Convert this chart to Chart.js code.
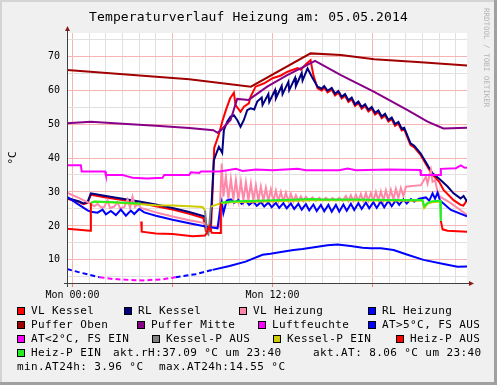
<!DOCTYPE html>
<html>
<head>
<meta charset="utf-8">
<title>Temperaturverlauf Heizung</title>
<script src="https://cdn.jsdelivr.net/npm/chart.js@4.4.1/dist/chart.umd.min.js"></script>
<style>
  html, body { margin: 0; padding: 0; background: #f0f0f0; }
  #wrap { position: relative; width: 497px; height: 385px; overflow: hidden;
          font-family: 'DejaVu Sans Mono', monospace; color: #000; }
  #wrap canvas { position: absolute; left: 0; top: 0; }
  #titel { position: absolute; left: 0; top: 9px; width: 497px; text-align: center;
           font-size: 13px; line-height: 15px; letter-spacing: 0.15px; white-space: pre; }
  #wasserzeichen { position: absolute; left: 482px; top: 8px; writing-mode: vertical-rl;
                   font-size: 7.5px; line-height: 9px; color: #b4b4b4; white-space: pre; }
  .txt { position: absolute; font-size: 11px; line-height: 12px; letter-spacing: 0.4px; white-space: pre; }
  .box { position: absolute; width: 6px; height: 6px; border: 1px solid #000; }
</style>
</head>
<body>
<div id="wrap">
  <canvas id="grafik" width="497" height="385"></canvas>
  <div id="titel">Temperaturverlauf Heizung am: 05.05.2014</div>
  <div id="wasserzeichen">RRDTOOL / TOBI OETIKER</div>
</div>
<script>
// ════════════════════════════════════════
//  Messwerte (Stunde, °C) - abgelesen
// ════════════════════════════════════════

const vlKessel = [
  [-0.33,28.0],[0.4,27.0],[0.65,26.4],[0.9,26.8],[1.1,29.2],[2,28.4],[3,27.6],[4,26.8],[5,25.8],
  [6,24.8],[7,23.6],[7.85,22.3],[8.0,18.5],[8.3,18.5],[8.4,30.0],[8.5,43.0],[8.75,46.5],[9.0,51.0],
  [9.2,54.1],[9.45,57.5],[9.68,59.2],[9.78,55.6],[10.08,53.6],[10.28,55.1],[10.58,56.1],[10.68,58.0],
  [10.98,61.0],[11.5,62.0],[12.0,63.5],[12.5,64.3],[12.9,65.4],[13.5,66.5],[13.7,66.0],[14.0,67.6],
  [14.28,68.8],[14.45,64.4],[14.7,60.5],[14.95,59.9],[15.1,60.7],[15.3,59.3],[15.55,60.1],[15.75,58.4],
  [15.95,59.2],[16.15,57.5],[16.35,58.3],[16.55,56.5],[16.75,57.3],[16.95,55.3],[17.15,56.1],[17.35,54.5],
  [17.55,55.3],[17.75,53.7],[17.95,54.5],[18.15,52.8],[18.35,53.5],[18.55,51.7],[18.75,52.5],[18.95,50.7],
  [19.15,51.4],[19.35,49.5],[19.55,50.1],[19.75,48.1],[19.9,48.4],[20.28,43.8],[20.5,43.1],[20.88,40.9],
  [21.36,36.9],[21.6,35.0],[22.0,33.0],[22.26,30.6],[22.86,27.6],[23.28,26.2],[23.45,26.0],[23.67,27.6]
];

const rlKessel = [
  [-0.33,28.2],[0.4,27.2],[0.65,26.6],[0.9,27.0],[1.1,29.6],[2,28.8],[3,28.0],[4,27.2],[5,26.3],
  [6,25.3],[7,24.1],[7.95,22.8],[8.05,19.5],[8.2,19.2],[8.28,20.9],[8.48,39.4],[8.6,41.0],[8.78,43.3],
  [8.98,41.5],[9.08,48.2],[9.28,50.7],[9.48,52.2],[9.68,52.6],[9.88,51.2],[10.08,49.2],[10.28,51.2],
  [10.48,54.1],[10.68,54.6],[10.9,54.3],[11.08,56.6],[11.35,57.8],[11.4,55.6],[11.75,58.8],[11.8,56.5],
  [12.15,60.0],[12.2,57.6],[12.55,61.2],[12.6,58.8],[12.95,62.4],[13.0,60.0],[13.35,63.6],[13.4,61.2],
  [13.75,65.0],[13.8,62.8],[14.1,66.4],[14.35,64.0],[14.7,61.0],[14.95,60.4],[15.1,61.2],[15.3,59.8],
  [15.55,60.6],[15.75,58.9],[15.95,59.7],[16.15,58.0],[16.35,58.8],[16.55,57.0],[16.75,57.8],[16.95,55.8],
  [17.15,56.6],[17.35,55.0],[17.55,55.8],[17.75,54.2],[17.95,55.0],[18.15,53.3],[18.35,54.0],[18.55,52.2],
  [18.75,53.0],[18.95,51.2],[19.15,51.9],[19.35,50.0],[19.55,50.6],[19.75,48.6],[19.9,48.9],[20.28,44.3],
  [20.5,43.6],[20.88,41.4],[21.36,37.4],[21.6,35.5],[22.08,33.5],[22.5,31.6],[22.86,29.6],[23.28,28.1],
  [23.46,28.8],[23.67,27.2]
];

const vlHeizung = [
  [-0.33,29.8],[0.3,28.4],[0.9,27.0],[1.1,26.5],[1.3,25.8],[1.5,26.5],[1.7,25.5],[1.9,25.6],[2.1,27.6],
  [2.25,25.3],[2.5,25.7],[2.7,27.0],[2.85,25.2],[3.1,25.5],[3.3,27.8],[3.45,25.4],[3.6,28.6],[3.75,25.6],
  [3.95,26.5],[4.1,25.3],[5,24.0],[6,22.8],[7,21.7],[7.85,20.9],[8.3,19.5],[8.8,19.8],
  [8.85,26.8],[8.95,38.4],[9.05,28.6],[9.2,34.5],[9.35,28.0],[9.5,33.8],[9.65,27.8],[9.8,33.5],[9.95,27.6],
  [10.1,33.0],[10.25,27.6],[10.4,32.8],[10.55,27.5],[10.7,32.5],[10.85,27.5],[11.0,32.0],[11.15,27.4],
  [11.3,31.6],[11.45,27.4],[11.6,31.2],[11.75,27.3],[11.9,30.8],[12.05,27.3],[12.2,30.4],[12.35,27.3],
  [12.5,30.0],[12.65,27.2],[12.8,29.8],[12.95,27.2],[13.1,29.4],[13.25,27.2],[13.4,29.0],[13.55,27.2],
  [13.7,28.7],[13.85,27.3],[14.0,28.6],[14.2,27.4],[14.4,28.4],[14.6,27.4],[14.8,28.3],[15.0,27.5],
  [15.2,28.3],[15.4,27.5],[15.6,28.2],[15.8,27.5],[16.0,28.3],[16.2,27.4],[16.4,28.8],[16.55,27.3],
  [16.7,29.0],[16.85,27.3],[17.0,29.2],[17.15,27.3],[17.3,29.4],[17.45,27.3],[17.6,29.6],[17.75,27.4],
  [17.9,29.7],[18.05,27.4],[18.2,30.0],[18.35,27.5],[18.5,30.2],[18.65,27.5],[18.8,30.5],[18.95,27.6],
  [19.1,30.6],[19.25,27.8],[19.4,30.9],[19.55,28.2],[19.7,31.2],[19.85,28.8],[20.0,31.5],[20.1,31.6],
  [20.9,32.0],[21.2,34.5],[21.3,32.5],[21.5,36.5],[21.6,33.0],[21.75,33.5],[21.9,30.1],[22.05,28.6],
  [22.7,26.7],[23.67,23.2]
];

const rlHeizung = [
  [-0.33,28.6],[0.3,26.5],[0.9,24.6],[1.1,24.2],[1.5,23.9],[1.8,24.8],[2.0,23.4],[2.3,24.4],[2.6,23.2],
  [2.9,24.8],[3.2,23.0],[3.5,24.5],[3.7,23.5],[4.0,25.0],[4.3,24.0],[5,23.0],[6,21.8],[7,20.8],[7.9,19.9],
  [8.7,19.3],[8.85,24.7],[8.95,27.0],[9.05,23.8],[9.25,27.5],[9.5,27.8],[9.7,26.8],[9.95,27.6],[10.15,26.5],
  [10.4,27.4],[10.6,26.2],[10.85,27.2],[11.05,25.9],[11.3,27.0],[11.5,25.7],[11.75,26.9],[11.95,25.5],
  [12.2,26.8],[12.4,25.3],[12.65,26.7],[12.85,25.2],[13.1,26.6],[13.3,25.0],[13.55,26.5],[13.75,24.8],
  [14.0,26.4],[14.2,24.6],[14.45,26.3],[14.65,24.4],[14.9,26.2],[15.1,24.3],[15.35,26.2],[15.55,24.2],
  [15.8,26.2],[16.0,24.2],[16.25,26.3],[16.45,24.5],[16.7,26.5],[16.9,24.7],[17.15,26.7],[17.35,25.0],
  [17.6,26.9],[17.8,25.2],[18.05,27.0],[18.25,25.3],[18.5,27.2],[18.7,25.5],[18.95,27.4],[19.15,25.8],
  [19.4,27.6],[19.6,26.2],[19.85,27.8],[20.05,26.6],[20.3,27.9],[20.5,27.2],[20.8,28.0],[21.2,28.4],
  [21.4,27.4],[21.6,29.6],[21.75,28.0],[21.9,29.8],[22.05,27.5],[22.7,24.7],[23.67,22.8]
];

const pufferOben = [
  [-0.33,65.9],[7,63.2],[10.7,61.0],[14.28,70.8],[16.1,70.3],[18.1,69.1],[20.9,68.2],[23.67,67.2]
];

const pufferMitte = [
  [-0.33,50.2],[1.1,50.7],[3,50.1],[5,49.5],[7,48.8],[8.45,48.2],[8.7,47.4],[8.9,48.2],[9.48,51.2],
  [9.88,57.4],[10.56,57.1],[11.68,61.0],[12.88,64.4],[13.68,66.4],[14.55,68.6],[16.1,64.4],[18.1,59.5],
  [20.1,54.1],[21.3,50.7],[22.25,48.7],[23.67,48.9]
];

const luftfeuchte = [
  [-0.33,37.9],[0.5,37.9],[0.55,36.0],[1.95,36.0],[2.0,35.0],[3.0,35.0],[3.3,34.6],[3.6,34.2],[4.5,34.0],
  [5.4,34.2],[5.5,35.0],[7.0,35.0],[7.1,35.8],[7.6,35.6],[7.7,36.0],[8.8,36.0],[9.2,36.3],[9.8,36.8],
  [10.2,36.2],[11.0,36.6],[12.0,36.4],[13.5,36.8],[14.0,36.4],[16.0,36.4],[16.5,36.9],[17.0,36.4],
  [19.0,36.6],[20.85,36.5],[20.9,35.0],[22.05,35.0],[22.1,36.8],[23.0,37.0],[23.3,37.8],[23.5,37.2],
  [23.67,37.1]
];

// Aussentemperatur, je nach Bereich in zwei Farben
const atWarm = [
  [-0.33,7.3],[0.6,6.1],[1.62,4.9],[1.63,null],[6.18,4.9],[7.38,5.8],[8.4,7.06],[9.42,8.2],[10.38,9.5],
  [11.4,11.5],[11.88,11.8],[12.5,12.3],[13.26,12.9],[13.8,13.2],[14.7,13.9],[15.3,14.3],[15.9,14.55],
  [16.68,14.1],[17.4,13.6],[17.88,13.4],[18.5,13.4],[19.26,12.9],[20.1,11.5],[21.06,10.0],[22.26,8.8],
  [23.1,8.0],[23.67,8.06]
];

const atKalt = [
  [1.62,4.9],[2.4,4.4],[3.42,4.1],[4.2,3.96],[5.4,4.3],[6.18,4.9]
];

const kesselPAus = [
  [7.95,24.6],[8.05,18.0],[8.15,17.5],[8.2,20.0],[8.3,25.7]
];

const kesselPEin = [
  [1.1,26.8],[1.3,27.1],[2.5,26.9],[4.1,26.4],[5,26.1],[6,26.0],[7,25.8],[7.8,25.6],[7.95,24.6],
  [7.96,null],[8.3,25.7],[8.6,26.2],[8.9,26.7],[9.5,27.0],[12,27.3],[15,27.6],[18,27.5],[21.0,27.4],
  [21.1,25.3],[21.3,26.5],[21.6,27.0],[22.05,27.2]
];

const heizPAus = [
  [-0.33,19.2],[1.05,18.6],[1.1,26.8],[1.11,null],[4.12,21.3],[4.15,18.3],[5,17.8],[6,17.6],[7.2,17.0],
  [7.95,17.2],[8.05,18.0],[8.2,19.8],[8.35,18.0],[8.85,17.9],[8.9,26.8],[8.91,null],[22.1,21.5],
  [22.2,19.0],[22.5,18.6],[23.67,18.3]
];

const heizPEin = [
  [1.1,26.8],[1.3,27.2],[2.5,27.0],[4.1,26.6],[4.11,null],[8.9,26.8],[9.5,27.2],[11,27.4],[13,27.7],
  [14.4,27.9],[15,27.8],[17,27.8],[19,27.6],[21.0,27.6],[21.1,25.8],[21.3,26.8],[21.6,27.3],[22.05,27.4],
  [22.1,21.5]
];

// Reihenfolge wie in der Legende
const reihenNamen = ["VL Kessel", "RL Kessel", "VL Heizung", "RL Heizung", "Puffer Oben", "Puffer Mitte",
  "Luftfeuchte", "AT>5°C, FS AUS", "AT<2°C, FS EIN", "Kessel-P AUS", "Kessel-P EIN", "Heiz-P AUS", "Heiz-P EIN"];
const reihenDaten = [vlKessel, rlKessel, vlHeizung, rlHeizung, pufferOben, pufferMitte, luftfeuchte,
  atWarm, atKalt, kesselPAus, kesselPEin, heizPAus, heizPEin];
const reihenFarben = ["#ff0000", "#000080", "#ff88a8", "#0000ff", "#a00000", "#880088", "#ff00ff",
  "#0000ff", "#ff00ff", "#808080", "#cccc00", "#ff0000", "#22ee22"];

// Achsenbeschriftung
const xLabelStunden = [0, 12];
const xLabelTexte = ["Mon 00:00", "Mon 12:00"];
const yLabelWerte = [10, 20, 30, 40, 50, 60, 70];

// Zusatztexte unter der Legende
const statTexte = ["akt.rH:37.09 °C um 23:40", "akt.AT: 8.06 °C um 23:40",
  "min.AT24h: 3.96 °C", "max.AT24h:14.55 °C"];


// ════════════════════════════════════════
//  Layout der Legende (Pixel)
// ════════════════════════════════════════
const legZeileY = [311, 325, 339, 353, 367];
const legPos = [[0,17],[0,124],[0,239],[0,368],[1,17],[1,137],[1,258],[1,368],
  [2,17],[2,152],[2,273],[2,396],[3,17]];
const statPos = [[3,113],[3,313],[4,17],[4,159]];

function baueLegende() {
  const wrap = document.getElementById("wrap");
  reihenNamen.forEach((name, i) => {
    const [zeile, x] = legPos[i];
    const mitte = legZeileY[zeile];
    const box = document.createElement("div");
    box.className = "box";
    box.style.left = x + "px";
    box.style.top = (mitte - 4) + "px";
    box.style.background = reihenFarben[i];
    wrap.appendChild(box);
    const t = document.createElement("div");
    t.className = "txt";
    t.style.left = (x + 14) + "px";
    t.style.top = (mitte - 6) + "px";
    t.textContent = name;
    wrap.appendChild(t);
  });
  statTexte.forEach((txt, i) => {
    const [zeile, x] = statPos[i];
    const t = document.createElement("div");
    t.className = "txt";
    t.style.left = x + "px";
    t.style.top = (legZeileY[zeile] - 6) + "px";
    t.textContent = txt;
    wrap.appendChild(t);
  });
}


// ════════════════════════════════════════
//  Hintergrund, Rahmen, Achsen mit Pfeil
// ════════════════════════════════════════
const rahmenPlugin = {
  id: "rahmen",
  beforeDraw(chart) {
    const { ctx, chartArea: a, width, height } = chart;
    ctx.save();
    ctx.fillStyle = "#f0f0f0";
    ctx.fillRect(0, 0, width, height);
    ctx.fillStyle = "#ffffff";
    ctx.fillRect(a.left, a.top, a.right - a.left, a.bottom - a.top);
    ctx.fillStyle = "#d4d4d4";
    ctx.fillRect(0, 0, width, 2);
    ctx.fillRect(0, 0, 2, height);
    ctx.fillStyle = "#a0a0a0";
    ctx.fillRect(0, height - 3, width, 3);
    ctx.fillRect(width - 3, 0, 3, height);
    ctx.restore();
  },
  afterDatasetsDraw(chart) {
    const { ctx, chartArea: a } = chart;
    ctx.save();
    ctx.strokeStyle = "#404040";
    ctx.lineWidth = 1;
    ctx.beginPath();
    ctx.moveTo(a.left + 0.5, a.bottom + 4);
    ctx.lineTo(a.left + 0.5, a.top - 3);
    ctx.moveTo(a.left - 3, a.bottom + 0.5);
    ctx.lineTo(a.right + 2, a.bottom + 0.5);
    ctx.stroke();
    ctx.fillStyle = "#8b1a1a";
    ctx.beginPath();
    ctx.moveTo(a.left + 0.5, a.top - 7);
    ctx.lineTo(a.left - 2, a.top - 2);
    ctx.lineTo(a.left + 3, a.top - 2);
    ctx.closePath();
    ctx.fill();
    ctx.beginPath();
    ctx.moveTo(a.right + 7, a.bottom + 0.5);
    ctx.lineTo(a.right + 2, a.bottom - 2);
    ctx.lineTo(a.right + 2, a.bottom + 3);
    ctx.closePath();
    ctx.fill();
    ctx.restore();
  }
};


// ════════════════════════════════════════
//  Grafik
// ════════════════════════════════════════
function inicializar() {
  if (typeof Chart === "undefined") {
    setTimeout(inicializar, 100);
    return;
  }
  Chart.defaults.font.family = "'DejaVu Sans Mono', monospace";
  Chart.defaults.color = "#000";

  const rosa = "#f6b4b4";
  const grau = "#e0e0e0";
  const gestrichelt = ctx => ctx.p0.parsed.x < 8.2 ? [5, 3] : undefined;

  const datasets = reihenDaten.map((reihe, i) => {
    const ds = {
      label: reihenNamen[i],
      data: reihe.map(([x, y]) => ({ x: x, y: y })),
      borderColor: reihenFarben[i],
      backgroundColor: reihenFarben[i],
      borderWidth: 2,
      pointRadius: 0,
      tension: 0,
      spanGaps: false,
      order: reihenNamen.length - i
    };
    if (i === 7 || i === 8) {
      ds.segment = { borderDash: gestrichelt };
    }
    return ds;
  });

  new Chart(document.getElementById("grafik"), {
    type: "line",
    data: { datasets: datasets },
    options: {
      responsive: false,
      animation: false,
      events: [],
      layout: { padding: { top: 33, right: 30, bottom: 82, left: 0 } },
      plugins: {
        legend: { display: false },
        tooltip: { enabled: false },
        title: { display: false }
      },
      scales: {
        x: {
          type: "linear",
          min: -0.333,
          max: 23.667,
          afterFit: s => { s.height = 20; },
          afterBuildTicks: s => {
            const t = [];
            for (let h = 0; h <= 23; h++) t.push({ value: h });
            s.ticks = t;
          },
          ticks: {
            autoSkip: false,
            maxRotation: 0,
            padding: 2,
            font: { size: 10 },
            callback: v => {
              const k = xLabelStunden.indexOf(v);
              return k >= 0 ? xLabelTexte[k] : "";
            }
          },
          grid: {
            color: c => (c.tick && c.tick.value % 6 === 0) ? rosa : grau,
            tickColor: c => (c.tick && c.tick.value % 6 === 0) ? "#f08080" : "rgba(0,0,0,0)",
            tickLength: 4
          },
          border: { display: false }
        },
        y: {
          type: "linear",
          min: 3.2,
          max: 76.8,
          afterFit: s => { s.width = 67; },
          afterBuildTicks: s => {
            const t = [];
            for (let v = 5; v <= 75; v += 5) t.push({ value: v });
            s.ticks = t;
          },
          ticks: {
            padding: 7,
            font: { size: 10 },
            callback: v => yLabelWerte.includes(v) ? String(v) : ""
          },
          grid: {
            color: c => (c.tick && c.tick.value % 10 === 0) ? rosa : grau,
            drawTicks: false
          },
          border: { display: false },
          title: {
            display: true,
            text: "°C",
            font: { size: 11 },
            padding: { top: 7, bottom: 0 }
          }
        }
      }
    },
    plugins: [rahmenPlugin]
  });
}

baueLegende();
document.addEventListener("DOMContentLoaded", inicializar);
</script>
</body>
</html>
